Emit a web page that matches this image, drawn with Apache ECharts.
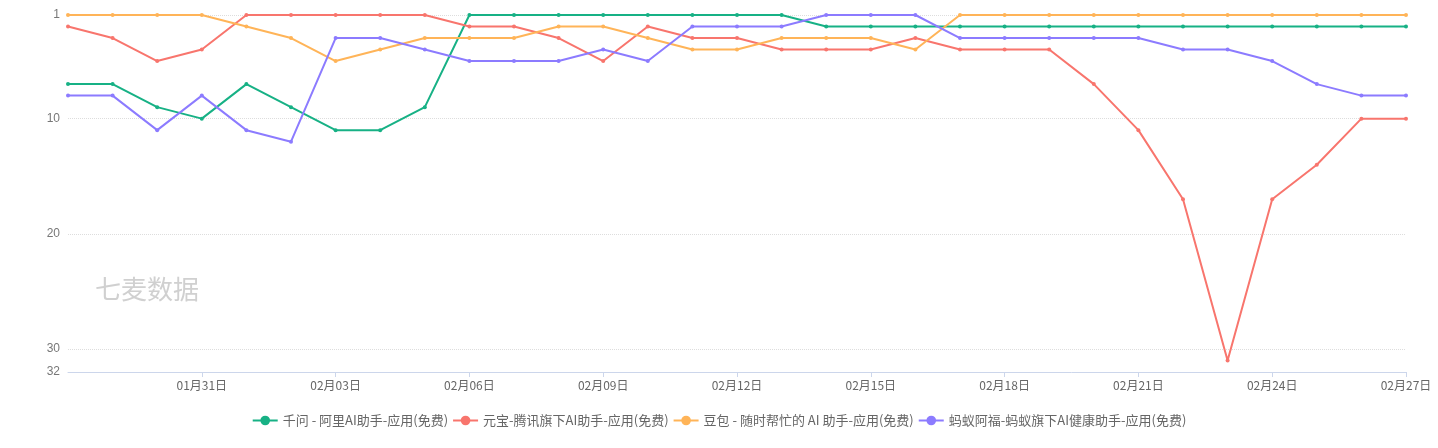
<!DOCTYPE html>
<html>
<head>
<meta charset="utf-8">
<script src="https://cdn.jsdelivr.net/npm/echarts@6/dist/echarts.min.js"></script>
<style>
  html, body { margin: 0; padding: 0; background: #fff; }
  #main { width: 1438px; height: 448px; }
</style>
</head>
<body>
<div id="main"></div>
<script>
// 日期：01月28日 – 02月27日
const dates = [
  '01月28日', '01月29日', '01月30日', '01月31日', '02月01日', '02月02日', '02月03日',
  '02月04日', '02月05日', '02月06日', '02月07日', '02月08日', '02月09日', '02月10日',
  '02月11日', '02月12日', '02月13日', '02月14日', '02月15日', '02月16日', '02月17日',
  '02月18日', '02月19日', '02月20日', '02月21日', '02月22日', '02月23日', '02月24日',
  '02月25日', '02月26日', '02月27日'
];

const seriesNames = [
  '千问 - 阿里AI助手-应用(免费)',
  '元宝-腾讯旗下AI助手-应用(免费)',
  '豆包 - 随时帮忙的 AI 助手-应用(免费)',
  '蚂蚁阿福-蚂蚁旗下AI健康助手-应用(免费)'
];

// 排名（数值越小越靠上）
const qianwen = [7, 7, 9, 10, 7, 9, 11, 11, 9, 1, 1, 1, 1, 1, 1, 1, 1, 2, 2, 2, 2, 2, 2, 2, 2, 2, 2, 2, 2, 2, 2];
const yuanbao = [2, 3, 5, 4, 1, 1, 1, 1, 1, 2, 2, 3, 5, 2, 3, 3, 4, 4, 4, 3, 4, 4, 4, 7, 11, 17, 31, 17, 14, 10, 10];
const doubao  = [1, 1, 1, 1, 2, 3, 5, 4, 3, 3, 3, 2, 2, 3, 4, 4, 3, 3, 3, 4, 1, 1, 1, 1, 1, 1, 1, 1, 1, 1, 1];
const afu     = [8, 8, 11, 8, 11, 12, 3, 3, 4, 5, 5, 5, 4, 5, 2, 2, 2, 1, 1, 1, 3, 3, 3, 3, 3, 4, 4, 5, 7, 8, 8];

const colors = ['#17b185', '#f8756d', '#ffb458', '#8c7bff'];

const chart = echarts.init(document.getElementById('main'));

function makeSeries(name, data, color) {
  return {
    name: name,
    type: 'line',
    data: data,
    symbol: 'circle',
    symbolSize: 4,
    lineStyle: { width: 2, color: color },
    itemStyle: { color: color }
  };
}

const option = {
  animation: false,
  color: colors,
  graphic: [{
    type: 'text',
    left: 95,
    top: 276,
    style: { text: '七麦数据', fontSize: 26, fill: '#d0d0d0', fontFamily: 'Noto Sans CJK SC' }
  }],
  legend: {
    data: seriesNames,
    bottom: 16,
    itemWidth: 25,
    itemHeight: 12,
    itemGap: 4,
    textStyle: { color: '#666', fontSize: 13, fontFamily: 'Noto Sans CJK SC' }
  },
  grid: { left: 68, right: 32, top: 15, bottom: 76 },
  xAxis: {
    type: 'category',
    data: dates,
    boundaryGap: false,
    axisLine: { lineStyle: { color: '#ccd6eb' } },
    axisTick: {
      lineStyle: { color: '#ccd6eb' },
      interval: function (i) { return i > 0 && i % 3 === 0; }
    },
    axisLabel: {
      color: '#666',
      fontSize: 12,
      fontFamily: 'Noto Sans CJK SC',
      margin: 7,
      interval: function (i) { return i > 0 && i % 3 === 0; }
    }
  },
  yAxis: {
    type: 'value',
    inverse: true,
    min: 1,
    max: 32,
    splitNumber: 3,
    axisLine: { show: false },
    axisTick: { show: false },
    axisLabel: { color: '#777', fontSize: 12, margin: 8 },
    splitLine: { lineStyle: { color: '#ddd', type: 'dotted' } }
  },
  series: [
    makeSeries(seriesNames[0], qianwen, colors[0]),
    makeSeries(seriesNames[1], yuanbao, colors[1]),
    makeSeries(seriesNames[2], doubao, colors[2]),
    makeSeries(seriesNames[3], afu, colors[3])
  ]
};

chart.setOption(option);
window.addEventListener('resize', () => chart.resize());
</script>
</body>
</html>
